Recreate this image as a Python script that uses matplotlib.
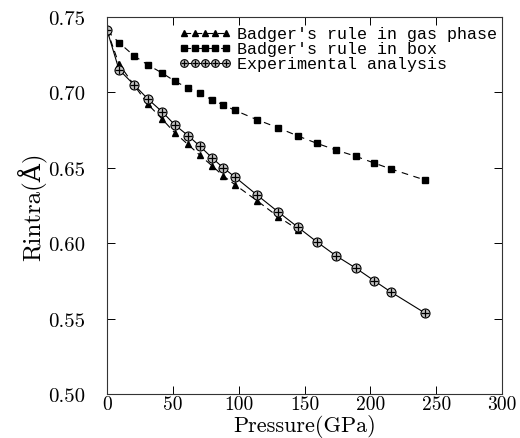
import matplotlib
matplotlib.use("Agg")
import matplotlib.pyplot as plt
from matplotlib.legend_handler import HandlerTuple

# Data
pressure = [0, 9.1, 20.5, 31.1, 41.8, 51.6, 61.5, 70.6, 79.7, 88.1, 97.2,
            113.9, 129.8, 145.0, 159.5, 173.9, 189.1, 202.8, 215.7, 241.5]
box = [0.7410, 0.7330, 0.7243, 0.7182, 0.7129, 0.7074, 0.7029, 0.6993, 0.6951,
       0.6918, 0.6881, 0.6819, 0.6766, 0.6711, 0.6662, 0.6618, 0.6576, 0.6532,
       0.6492, 0.6419]
experimental = [0.7414, 0.7151, 0.7051, 0.6956, 0.6872, 0.6784, 0.6714, 0.6643,
                0.6567, 0.6501, 0.6439, 0.6320, 0.6209, 0.6106, 0.6008, 0.5917,
                0.5834, 0.5752, 0.5676, 0.5537]
gas_pressure = pressure[:14]
gas = [0.7414, 0.7188, 0.7049, 0.6921, 0.6824, 0.6731, 0.6655, 0.6583, 0.6514,
       0.6448, 0.6388, 0.6282, 0.6177, 0.6090]

xticks = [0, 50, 100, 150, 200, 250, 300]
yticks = [0.50, 0.55, 0.60, 0.65, 0.70, 0.75]

plt.rcParams['font.family'] = ['cmr10', 'DejaVu Serif']
plt.rcParams['axes.formatter.use_mathtext'] = True

fig = plt.figure(figsize=(5.2, 4.39), dpi=100)
ax = fig.add_axes([107/520, 1-395/439, 395/520, 377/439])

l_gas, = ax.plot(gas_pressure, gas, color='k', lw=0.8, ls=(0, (6, 4)),
                 marker='^', ms=5, mfc='k', mec='k')
l_box, = ax.plot(pressure, box, color='k', lw=0.8, ls=(0, (6, 5)),
                 marker='s', ms=5, mfc='k', mec='k')
l_exp, = ax.plot(pressure, experimental, color='k', lw=0.8, ls='-',
                 marker='o', ms=6.5, mfc='#c4c4c4', mec='k', mew=0.8)
l_exp2, = ax.plot(pressure, experimental, ls='none', marker='+', ms=5.5,
                  color='k', mew=0.9)

ax.set_xlim(0, 300)
ax.set_ylim(0.50, 0.75)
ax.set_xticks(xticks)
ax.set_yticks(yticks)
ax.set_xticklabels([str(v) for v in xticks])
ax.set_yticklabels(['%.2f' % v for v in yticks])
ax.tick_params(direction='in', top=True, right=True, length=6, width=0.7,
               labelsize=15)
ax.tick_params(axis='x', pad=1, labelsize=14)
ax.tick_params(axis='y', pad=16)
for s in ax.spines.values():
    s.set_linewidth(0.8)
    s.set_color('#333333')

ax.set_xlabel('Pressure(GPa)', fontsize=16)
ax.xaxis.set_label_coords(0.5, -0.052)
ax.set_ylabel('Rintra(Å)', fontsize=18, labelpad=0)

leg = ax.legend([l_gas, l_box, (l_exp, l_exp2)],
                ["Badger's rule in gas phase", "Badger's rule in box",
                 "Experimental analysis"],
                handler_map={tuple: HandlerTuple(ndivide=1)},
                loc='upper right', bbox_to_anchor=(1.018, 1.006), frameon=False,
                numpoints=5, handlelength=3.1, handletextpad=0.4,
                labelspacing=0.0, borderaxespad=0.3, markerscale=0.85,
                prop={'family': 'Liberation Mono', 'size': 12})

fig.savefig('out.png', dpi=100)
